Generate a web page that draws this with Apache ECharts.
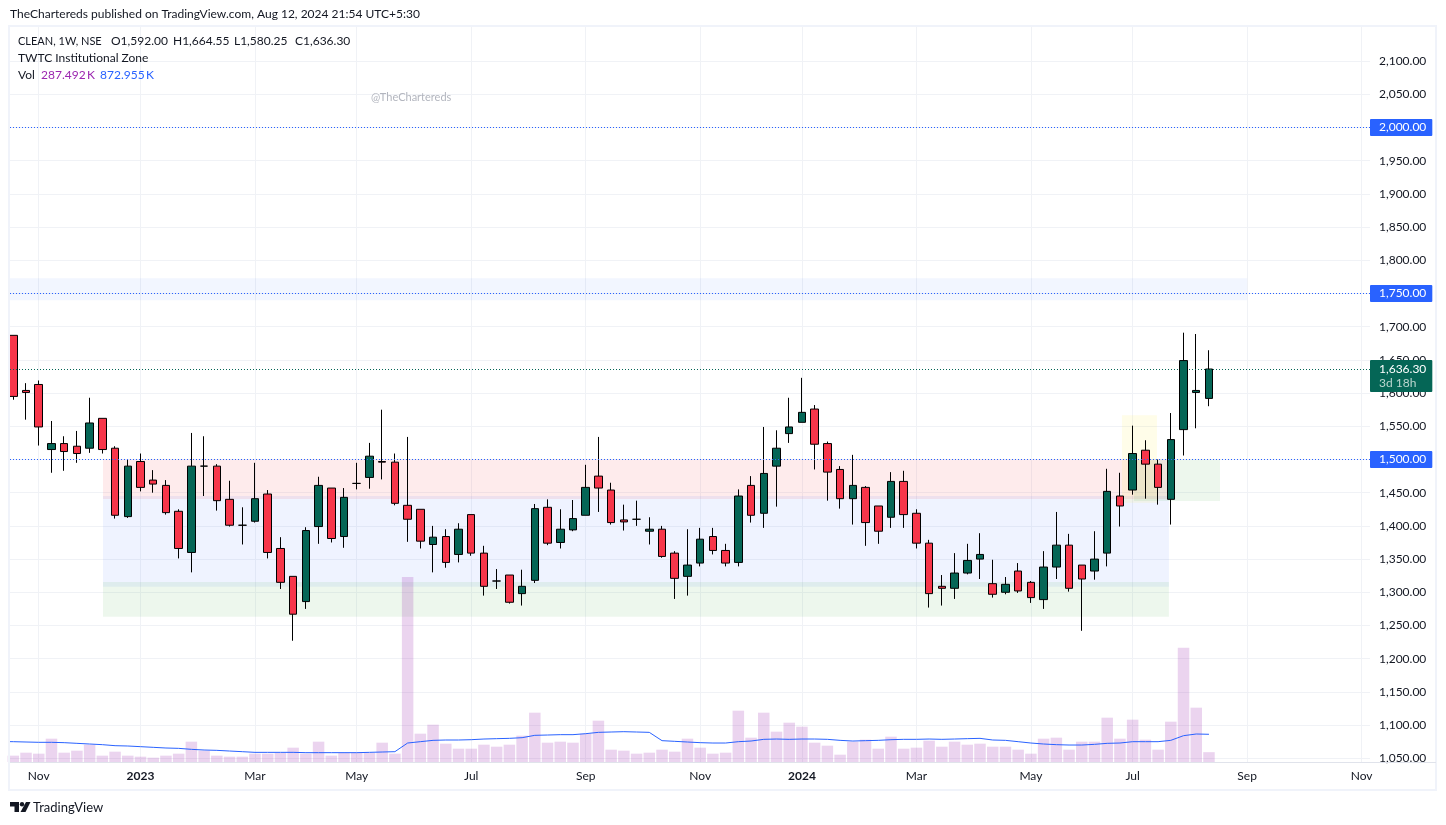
<!DOCTYPE html>
<html>
<head>
<meta charset="utf-8">
<title>CLEAN 1W</title>
<script src="https://cdn.jsdelivr.net/npm/echarts@6/dist/echarts.min.js"></script>
<style>
html, body { margin: 0; padding: 0; background: #fff; }
#main { width: 1446px; height: 825px; }
</style>
</head>
<body>
<div id="main"></div>
<script>
// weekly candles, oldest first (week index is the x value)
const opens = [1687,1604,1613,1515,1524,1520,1517,1562,1517,1414,1497,1469,1461,1422,1360,1490,1490,1440,1401,1407,1448,1366,1324,1286,1399,1457,1384,1464,1473,1497,1496,1431,1425,1372,1384,1357,1417,1359,1317,1326,1298,1318,1428,1375,1394,1416,1475,1454,1409,1410,1392,1395,1359,1324,1344,1384,1363,1345,1461,1419,1490,1539,1556,1576,1524,1485,1441,1458,1430,1413,1467,1419,1374,1309,1306,1329,1350,1313,1300,1332,1315,1289,1338,1371,1341,1332,1359,1445,1454,1514,1493,1440,1545,1601,1592];
const closes = [1595,1601,1549,1524,1512,1509,1555,1515,1416,1490,1458,1463,1420,1366,1490,1490,1438,1401,1401,1441,1360,1315,1267,1393,1461,1381,1443,1464,1505,1496,1434,1410,1377,1383,1345,1395,1359,1309,1317,1285,1309,1426,1374,1395,1411,1458,1457,1405,1406,1410,1395,1354,1321,1341,1380,1363,1344,1445,1416,1479,1517,1549,1571,1523,1481,1441,1461,1405,1392,1467,1417,1374,1298,1306,1329,1348,1357,1297,1312,1302,1292,1338,1371,1306,1320,1350,1452,1430,1509,1493,1458,1530,1649,1604,1636.3];
const lows = [1590,1560,1521,1480,1483,1495,1510,1509,1411,1412,1452,1450,1417,1351,1330,1445,1423,1399,1372,1405,1351,1305,1227,1275,1373,1375,1367,1455,1456,1470,1431,1376,1366,1330,1337,1345,1355,1295,1305,1283,1280,1314,1371,1366,1392,1416,1421,1402,1393,1400,1372,1352,1290,1295,1339,1357,1339,1339,1405,1397,1429,1525,1556,1485,1438,1426,1402,1370,1373,1397,1397,1366,1277,1280,1290,1327,1320,1292,1297,1299,1284,1275,1320,1301,1242,1319,1339,1399,1447,1441,1432,1402,1506,1547,1580.25];
const highs = [1687,1615,1619,1558,1535,1543,1593,1562,1520,1500,1509,1484,1469,1425,1540,1535,1493,1468,1428,1495,1454,1383,1324,1398,1474,1457,1457,1495,1525,1575,1509,1534,1425,1400,1395,1404,1417,1370,1335,1326,1334,1433,1440,1425,1439,1492,1534,1465,1432,1438,1413,1400,1362,1395,1397,1397,1373,1455,1475,1549,1544,1593,1623,1582,1527,1490,1507,1460,1430,1481,1483,1425,1379,1326,1359,1373,1389,1349,1323,1344,1317,1362,1421,1388,1341,1392,1486,1480,1551,1529,1500,1570,1691,1689,1664.55];

// volume in thousands and its moving average
const volumes = [200,294,262,735,294,357,546,200,325,200,168,136,200,262,640,357,200,168,168,262,262,283,451,262,640,200,283,283,283,609,262,5830,892,1176,577,420,420,546,483,546,830,1554,609,640,609,892,1302,388,357,262,294,388,325,735,451,262,294,1617,766,1554,955,1239,1113,609,514,231,640,703,420,798,420,451,672,483,640,546,577,483,483,388,262,735,766,388,640,640,1396,735,1333,703,388,1270,3601,1711,310];
const volumeMA = [640,630,620,620,609,588,567,546,514,504,483,462,441,430,399,378,367,346,325,304,304,304,304,294,294,294,294,294,304,315,325,598,640,682,693,693,703,724,735,745,766,840,850,861,861,892,934,945,955,945,934,672,651,630,609,598,598,640,661,714,724,714,724,724,714,682,661,672,682,703,714,714,724,714,724,735,745,693,682,640,598,567,546,535,535,556,588,598,640,640,640,682,829,882,873];
// the average of the week just left of the visible range
const volumeMAPrev = 645;

// axis ticks
const monthWeeks = [2,10,19,27,36,45,54,62,71,80,88,97,106];
const monthLabels = ['Nov','2023','Mar','May','Jul','Sep','Nov','2024','Mar','May','Jul','Sep','Nov'];
const priceTicks = [1050,1100,1150,1200,1250,1300,1350,1400,1450,1500,1550,1600,1650,1700,1750,1800,1850,1900,1950,2000,2050,2100];

// drawn zones: week range and price range
const zoneNames = ['supply','base','demand','upper','breakout','retest'];
const zoneFrom = [7.05,7.05,7.05,-0.26,87.16,88.1];
const zoneTo = [90.85,90.85,90.85,97,89.91,94.87];
const zoneTop = [1500,1445,1315.5,1773,1566.5,1500];
const zoneBottom = [1440.5,1308.4,1263,1740,1435,1437.5];

// horizontal price lines
const levelPrices = [2000,1750,1500];
const lastPrice = 1636.3;

const headerText = 'TheChartereds published on TradingView.com, Aug 12, 2024 21:54 UTC+5:30';
const symbolText = 'CLEAN, 1W, NSE';
const ohlcTexts = ['O1,592.00', 'H1,664.55', 'L1,580.25', 'C1,636.30'];
const indicatorText = 'TWTC Institutional Zone';
const volText = ['Vol', '287.492\u2009K', '872.955\u2009K'];

const UI_FONT = 'Lato, "Liberation Sans", sans-serif';
const TEXT = '#131722';
const BLUE = '#2962ff';
const GREEN = '#056656';
const RED = '#f7364a';
const GRID = '#f0f2f6';
const zoneColors = ['rgba(242,54,69,0.10)','rgba(41,98,255,0.075)','rgba(76,175,80,0.10)','rgba(41,98,255,0.06)','rgba(255,235,59,0.11)','rgba(76,175,80,0.10)'];

const fmtPrice = v => Number(v).toLocaleString('en-US', { minimumFractionDigits: 2, maximumFractionDigits: 2 });

function textEl(x, y, text, fill, size) {
    return {
        type: 'text', x: x, y: y, z: 20, silent: true,
        style: { text: text, fill: fill || TEXT, font: (size || 12) + 'px ' + UI_FONT, textVerticalAlign: 'middle' }
    };
}

const chart = echarts.init(document.getElementById('main'), null, { renderer: 'canvas' });

chart.setOption({
    animation: false,
    backgroundColor: '#fff',
    grid: { left: 10, top: 26, width: 1360, height: 736, containLabel: false },
    xAxis: {
        type: 'value',
        min: -0.26,
        max: 106.66,
        axisLine: { show: false },
        axisTick: { show: false, customValues: monthWeeks },
        splitLine: { show: true, lineStyle: { color: GRID, width: 1 } },
        axisLabel: {
            customValues: monthWeeks,
            margin: 8,
            color: TEXT,
            fontFamily: UI_FONT,
            fontSize: 12,
            hideOverlap: false,
            showMinLabel: true,
            showMaxLabel: true,
            formatter: v => {
                const t = monthLabels[monthWeeks.indexOf(v)];
                return /^\d/.test(t) ? '{y|' + t + '}' : t;
            },
            rich: { y: { fontFamily: UI_FONT, fontSize: 12, fontWeight: 'bold', color: TEXT } }
        }
    },
    yAxis: [
        {
            type: 'value',
            position: 'right',
            min: 1044.4,
            max: 2152.9,
            axisLine: { show: false },
            axisTick: { show: false, customValues: priceTicks },
            splitLine: { show: true, lineStyle: { color: GRID, width: 1 } },
            axisLabel: {
                customValues: priceTicks,
                margin: 9,
                padding: [0, 0, 2, 0],
                color: TEXT,
                fontFamily: UI_FONT,
                fontSize: 12,
                formatter: fmtPrice
            }
        },
        {
            // volume overlay, no axis of its own in the picture
            type: 'value',
            min: 0,
            max: 23184,
            show: false
        }
    ],
    series: [
        {
            name: 'zones',
            type: 'line',
            data: [],
            z: 1,
            silent: true,
            markArea: {
                silent: true,
                label: { show: false },
                data: zoneNames.map((n, i) => [
                    { name: n, xAxis: zoneFrom[i], yAxis: zoneTop[i], itemStyle: { color: zoneColors[i] } },
                    { xAxis: zoneTo[i], yAxis: zoneBottom[i] }
                ])
            }
        },
        {
            name: 'Vol',
            type: 'bar',
            yAxisIndex: 1,
            barWidth: 11.5,
            z: 2,
            itemStyle: { color: 'rgba(156,39,176,0.2)' },
            data: volumes.map((v, i) => [i, v])
        },
        {
            name: 'Vol MA',
            type: 'line',
            yAxisIndex: 1,
            z: 3,
            showSymbol: false,
            lineStyle: { color: BLUE, width: 1 },
            data: [[-1, volumeMAPrev]].concat(volumeMA.map((v, i) => [i, v]))
        },
        {
            name: 'CLEAN',
            type: 'candlestick',
            z: 4,
            barWidth: 8,
            clip: true,
            itemStyle: {
                color: GREEN,
                color0: RED,
                borderColor: '#000',
                borderColor0: '#000',
                borderColorDoji: '#000',
                borderWidth: 1
            },
            data: opens.map((o, i) => [i, o, closes[i], lows[i], highs[i]]),
            markLine: {
                silent: true,
                symbol: 'none',
                precision: 2,
                z: 10,
                data: levelPrices.map(p => ({
                    yAxis: p,
                    lineStyle: { color: BLUE, type: [1, 2], width: 1 },
                    label: {
                        show: true,
                        position: 'end',
                        distance: 0,
                        formatter: fmtPrice(p),
                        color: '#fff',
                        fontFamily: UI_FONT,
                        fontSize: 12,
                        lineHeight: 11,
                        backgroundColor: BLUE,
                        borderRadius: 1,
                        padding: [3, 6, 3, 9]
                    }
                })).concat([{
                    yAxis: lastPrice,
                    lineStyle: { color: GREEN, type: [1, 2], width: 1 },
                    label: {
                        show: true,
                        position: 'end',
                        distance: 0,
                        offset: [0, 7],
                        formatter: fmtPrice(lastPrice) + '\n{c|3d 18h}',
                        color: '#fff',
                        fontFamily: UI_FONT,
                        fontSize: 12,
                        lineHeight: 14,
                        backgroundColor: GREEN,
                        borderRadius: 1,
                        padding: [2, 6, 2, 9],
                        rich: { c: { color: '#bcd6cf', fontFamily: UI_FONT, fontSize: 12, lineHeight: 14 } }
                    }
                }])
            }
        }
    ],
    graphic: [
        // outer frame and the line under the plot
        { type: 'rect', z: 15, silent: true, shape: { x: 9, y: 26, width: 1427, height: 764 }, style: { fill: 'none', stroke: '#f0f3fa', lineWidth: 2 } },
        { type: 'line', z: 15, silent: true, shape: { x1: 10, y1: 762.5, x2: 1436, y2: 762.5 }, style: { stroke: '#e0e3eb', lineWidth: 1 } },
        textEl(10, 14.5, headerText),
        textEl(18, 41.5, symbolText, TEXT, 11),
        textEl(111, 41.5, ohlcTexts[0]),
        textEl(173, 41.5, ohlcTexts[1]),
        textEl(234, 41.5, ohlcTexts[2]),
        textEl(295, 41.5, ohlcTexts[3]),
        textEl(18, 58.5, indicatorText),
        textEl(18, 75.5, volText[0]),
        textEl(41, 75.5, volText[1], '#9c27b0'),
        textEl(100, 75.5, volText[2], BLUE),
        textEl(371, 97, '@TheChartereds', '#b2b5be', 11),
        // TradingView mark
        { type: 'polygon', z: 20, silent: true, shape: { points: [[10,802],[19,802],[19,812],[14.5,812],[14.5,806.5],[10,806.5]] }, style: { fill: TEXT } },
        { type: 'circle', z: 20, silent: true, shape: { cx: 22, cy: 804.2, r: 2.2 }, style: { fill: TEXT } },
        { type: 'polygon', z: 20, silent: true, shape: { points: [[26,802],[30.5,802],[25.5,812],[20.5,812]] }, style: { fill: TEXT } },
        textEl(33, 807.5, 'TradingView', TEXT, 13)
    ]
});
window.addEventListener('resize', chart.resize);
</script>
</body>
</html>
